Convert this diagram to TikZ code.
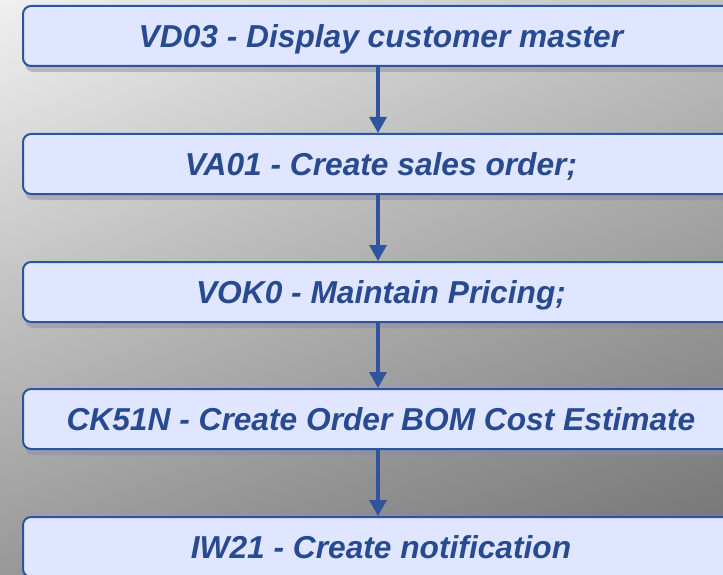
\documentclass[tikz,border=0pt]{standalone}
\usepackage{fontspec}
\setmainfont{Liberation Sans}
\usetikzlibrary{arrows.meta,shadings}
\definecolor{boxfill}{RGB}{224,230,255}
\definecolor{boxline}{RGB}{46,84,158}
\definecolor{txt}{RGB}{40,74,145}
\definecolor{bgUL}{RGB}{240,240,240}
\definecolor{bgUR}{RGB}{192,192,192}
\definecolor{bgLL}{RGB}{152,152,152}
\definecolor{bgLR}{RGB}{112,112,112}
\definecolor{shad}{RGB}{140,140,165}
\tikzset{
  stepbox/.style={draw=boxline, line width=2pt, fill=boxfill, rounded corners=8pt,
    minimum width=716pt, minimum height=60pt, inner sep=0pt, anchor=north west,
    text height=22.6pt, text depth=0pt,
    text=txt, font=\fontsize{31.7}{36}\selectfont\bfseries\itshape},
  flow/.style={draw=boxline, line width=3.2pt, -{Triangle[width=17pt,length=16pt]}}
}
\begin{document}
\begin{tikzpicture}[x=1pt,y=-1pt]
\useasboundingbox (0,0) rectangle (723,575);
\shade[upper left=bgUL, upper right=bgUR, lower left=bgLL, lower right=bgLR] (0,0) rectangle (723,575);
\foreach \y in {5,133,261,388,516}{
  \fill[shad, opacity=0.5, rounded corners=8pt] (25,\y+8) rectangle (744,\y+67);
}
\node[stepbox] (a) at (22,5) {VD03 - Display customer master};
\node[stepbox] (b) at (22,133) {VA01 - Create sales order;};
\node[stepbox] (c) at (22,261) {VOK0 - Maintain Pricing;};
\node[stepbox] (d) at (22,388) {CK51N - Create Order BOM Cost Estimate};
\node[stepbox] (e) at (22,516) {IW21 - Create notification};
\draw[flow] (a.south) ++(-3,0) coordinate (a1) -- (a1 |- b.north);
\draw[flow] (b.south) ++(-3,0) coordinate (b1) -- (b1 |- c.north);
\draw[flow] (c.south) ++(-3,0) coordinate (c1) -- (c1 |- d.north);
\draw[flow] (d.south) ++(-3,0) coordinate (d1) -- (d1 |- e.north);
\end{tikzpicture}
\end{document}
